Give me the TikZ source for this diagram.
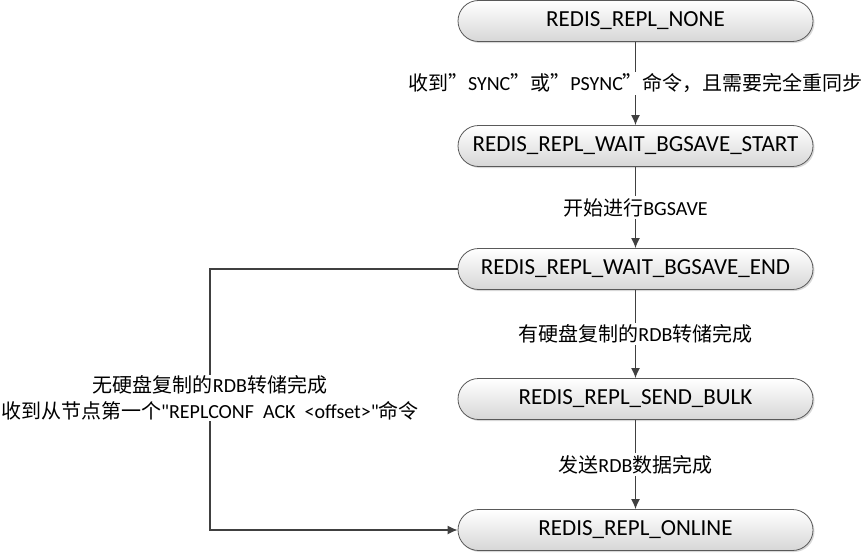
\documentclass[tikz,border=0pt]{standalone}
\usepackage{fontspec}
\setmainfont{Carlito}[Ligatures=TeXOff]
\newfontfamily\cjk{Noto Sans CJK SC}
\usetikzlibrary{shadows,arrows.meta}
\begin{document}
\begin{tikzpicture}[x=1pt,y=-1pt,
  state/.style={draw=black!65, line width=0.8pt, rounded corners=20.5pt,
    minimum width=355pt, minimum height=41pt, inner sep=0pt,
    top color=white, bottom color=black!16,
    drop shadow={shadow xshift=1.5pt,shadow yshift=-1.5pt,fill=black!30},
    font=\fontsize{23}{26}\selectfont},
  flow/.style={draw=black!75, line width=1.3pt, -{Latex[length=10pt,width=9pt]}},
  lbl/.style={fill=white, inner sep=2pt, font=\fontsize{20}{26}\selectfont}]
\useasboundingbox (0,0) rectangle (864,554);
\node[state] (n1) at (635.5,21)  {REDIS\_REPL\_NONE};
\node[state] (n2) at (635.5,146) {REDIS\_REPL\_WAIT\_BGSAVE\_START};
\node[state] (n3) at (635.5,269) {REDIS\_REPL\_WAIT\_BGSAVE\_END};
\node[state] (n4) at (635.5,399) {REDIS\_REPL\_SEND\_BULK};
\node[state] (n5) at (635.5,530) {REDIS\_REPL\_ONLINE};
\draw[flow] (n1) -- node[lbl] {{\cjk 收到”}SYNC{\cjk ”或”}PSYNC{\cjk ”命令，且需要完全重同步}} (n2);
\draw[flow] (n2) -- node[lbl] {{\cjk 开始进行}BGSAVE} (n3);
\draw[flow] (n3) -- node[lbl] {{\cjk 有硬盘复制的}RDB{\cjk 转储完成}} (n4);
\draw[flow] (n4) -- node[lbl] {{\cjk 发送}RDB{\cjk 数据完成}} (n5);
\coordinate (lx) at (210,398);
\draw[flow] (n3.west) -| (lx) |- (n5.west);
\node[lbl, align=center, inner sep=1pt] (loop) at (lx)
  {{\cjk 无硬盘复制的}RDB{\cjk 转储完成}\\
   {\cjk 收到从节点第一个}"REPLCONF\ \ ACK\ \ <offset>"{\cjk 命令}};
\end{tikzpicture}
\end{document}
